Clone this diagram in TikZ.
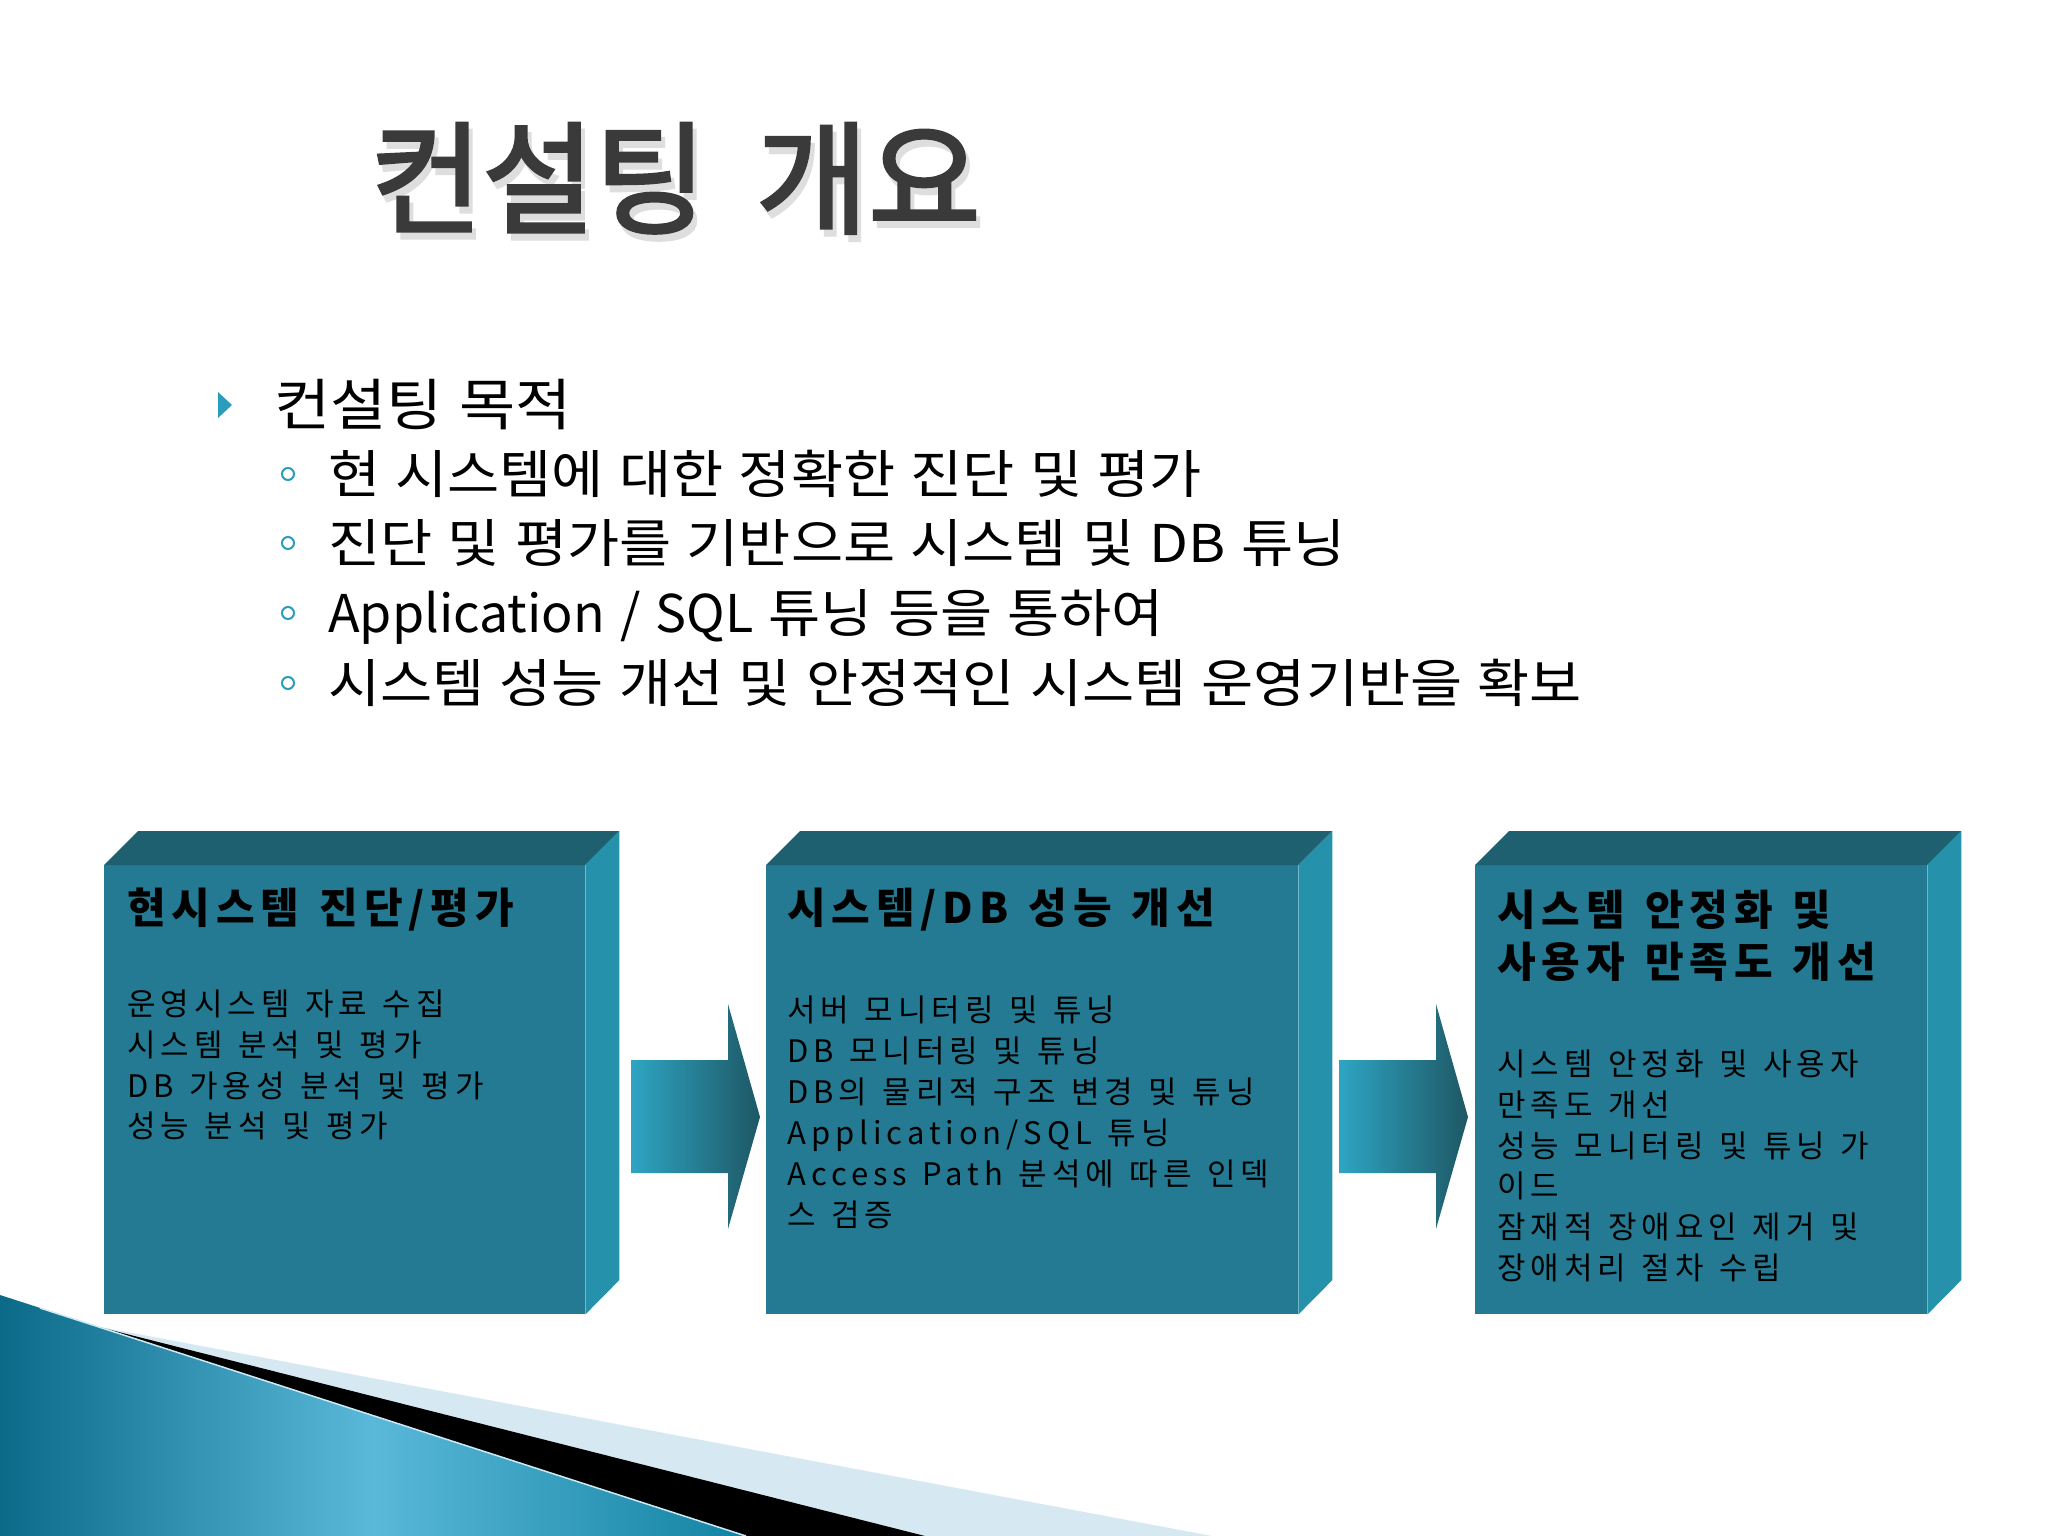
\documentclass[tikz,border=0pt]{standalone}
\usepackage{fontspec}
\usetikzlibrary{calc}
\newfontfamily\krtitle[WordSpace=1.8,FakeBold=2.5]{Noto Sans CJK KR}
\newfontfamily\krtext[WordSpace=1.2,FakeStretch=1.09]{Noto Sans CJK KR}
\newfontfamily\krplain[WordSpace=1.3]{Noto Sans CJK KR}
\newfontfamily\krbox[WordSpace=1.3,LetterSpace=16]{Noto Sans CJK KR}
\newfontfamily\krboxb[WordSpace=1.3,LetterSpace=14]{Noto Sans CJK KR}
\definecolor{frontc}{HTML}{247A92}
\definecolor{topc}{HTML}{1F6070}
\definecolor{sidec}{HTML}{2691AA}
\definecolor{arrL}{HTML}{2EA5C3}
\definecolor{arrD}{HTML}{1E5764}
\definecolor{bulletc}{HTML}{2A9DBA}
\definecolor{titlec}{HTML}{3A3A3A}
\definecolor{lightdeco}{HTML}{D6E8F1}
\definecolor{decoA}{HTML}{0B6A88}
\definecolor{decoB}{HTML}{5AB8D9}
\definecolor{decoC}{HTML}{1383A3}
\begin{document}
\begin{tikzpicture}[x=1pt,y=-1pt,
  txt/.style={inner sep=0pt, anchor=base west, text=black},
  headtxt/.style={txt, font=\krtext\fontsize{56}{60}\selectfont},
  subtxt/.style={txt, font=\krtext\fontsize{52}{56}\selectfont},
  boxtitle/.style={txt, font=\krboxb\bfseries\fontsize{42}{46}\selectfont},
  boxbody/.style={txt, font=\krbox\fontsize{31}{34}\selectfont},
  frontbox/.style={rectangle, fill=frontc, inner sep=0pt, anchor=north west,
     minimum height=449pt},
  subbullet/.style={circle, draw=bulletc, line width=2pt, minimum size=12pt, inner sep=0pt},
  blockarrow/.style={left color=arrL, right color=arrD}
]
\fill[white] (0,0) rectangle (2048,1536);
\useasboundingbox (0,0) rectangle (2048,1536);

% bottom-left decoration
\fill[lightdeco] (95,1326) -- (1212,1536) -- (600,1536) -- cycle;
\fill[black] (95,1326) -- (925,1536) -- (740,1536) -- cycle;
\shade[left color=decoA, right color=decoC, middle color=decoB] (0,1295) -- (746,1536) -- (0,1536) -- cycle;
\draw[white!70!decoB, line width=1.5pt] (40,1308) -- (746,1536);

% title
\node[txt, text=black!13, font=\krtitle\fontsize{122}{130}\selectfont] (titleshadow) at (374,231) {컨설팅 개요};
\node[txt, text=titlec, font=\krtitle\fontsize{122}{130}\selectfont] (title) at (370,224) {컨설팅 개요};

% bullets
\fill[bulletc] (218,392) -- (232,405) -- (218,418) -- cycle;
\node[headtxt] (head) at (274,425) {컨설팅 목적};
\node[subbullet] (c1) at (288,474) {};
\node[subbullet] (c2) at (288,543) {};
\node[subbullet] (c3) at (288,613) {};
\node[subbullet] (c4) at (288,683) {};
\node[subtxt] (s1) at (328,493) {현 시스템에 대한 정확한 진단 및 평가};
\node[subtxt] (s2) at (328,562) {진단 및 평가를 기반으로 시스템 및 DB 튜닝};
\node[subtxt] (s3) at (328,632) {{\krplain Application / SQL} 튜닝 등을 통하여};
\node[subtxt] (s4) at (328,702) {시스템 성능 개선 및 안정적인 시스템 운영기반을 확보};

% boxes
\node[frontbox, minimum width=481pt] (box1) at (104,865) {};
\node[frontbox, minimum width=532pt] (box2) at (766,865) {};
\node[frontbox, minimum width=452pt] (box3) at (1475,865) {};
\foreach \b in {box1,box2,box3}{
  \fill[topc] (\b.north west) -- ++(34,-34) -- ($(\b.north east)+(34,-34)$) -- (\b.north east) -- cycle;
  \fill[sidec] (\b.north east) -- ++(34,-34) -- ++(0,449) -- (\b.south east) -- cycle;
}

% block arrows
\coordinate (a1s) at (631,1117);
\coordinate (a2s) at (1339,1117);
\shade[blockarrow] (a1s) ++(0,-57) -- ++(97,0) -- ++(0,-56) -- ++(32,113) -- ++(-32,112) -- ++(0,-56) -- ++(-97,0) -- cycle;
\shade[blockarrow] (a2s) ++(0,-57) -- ++(97,0) -- ++(0,-56) -- ++(32,113) -- ++(-32,112) -- ++(0,-56) -- ++(-97,0) -- cycle;

% box 1 text
\node[boxtitle] (b1t) at (127,923) {현시스템 진단/평가};
\node[boxbody] (b1a) at (127,1015) {운영시스템 자료 수집};
\node[boxbody] (b1b) at (127,1056) {시스템 분석 및 평가};
\node[boxbody] (b1c) at (127,1097) {DB 가용성 분석 및 평가};
\node[boxbody] (b1d) at (127,1137) {성능 분석 및 평가};

% box 2 text
\node[boxtitle] (b2t) at (787,923) {시스템/DB 성능 개선};
\node[boxbody] (b2a) at (787,1021) {서버 모니터링 및 튜닝};
\node[boxbody] (b2b) at (787,1062) {DB 모니터링 및 튜닝};
\node[boxbody] (b2c) at (787,1103) {DB의 물리적 구조 변경 및 튜닝};
\node[boxbody] (b2d) at (787,1144) {Application/SQL 튜닝};
\node[boxbody] (b2e) at (787,1185) {Access Path 분석에 따른 인덱};
\node[boxbody] (b2f) at (787,1226) {스 검증};

% box 3 text
\node[boxtitle] (b3t) at (1497,925) {시스템 안정화 및};
\node[boxtitle] (b3u) at (1497,977) {사용자 만족도 개선};
\node[boxbody] (b3a) at (1497,1075) {시스템 안정화 및 사용자};
\node[boxbody] (b3b) at (1497,1116) {만족도 개선};
\node[boxbody] (b3c) at (1497,1157) {성능 모니터링 및 튜닝 가};
\node[boxbody] (b3d) at (1497,1197) {이드};
\node[boxbody] (b3e) at (1497,1238) {잠재적 장애요인 제거 및};
\node[boxbody] (b3f) at (1497,1279) {장애처리 절차 수립};
\end{tikzpicture}
\end{document}
